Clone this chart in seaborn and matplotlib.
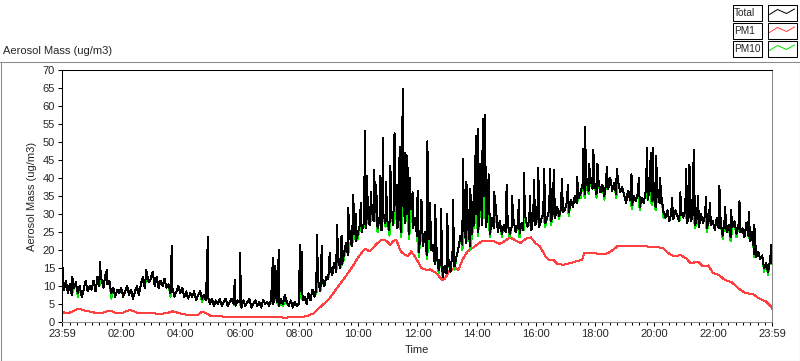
import numpy as np
import pandas as pd
import matplotlib
matplotlib.use('Agg')
import matplotlib.pyplot as plt
import seaborn as sns
from matplotlib.patches import Rectangle
from matplotlib.lines import Line2D
from matplotlib.ticker import FixedLocator

# Values. x is hours since the 23:59 start of the axis.
# Total and PM10 are sampled every 4 minutes (15 values per hour row).
STEP_MIN = 4

total_base = [
    13.5, 9.0, 11.5, 8.0, 10.5, 7.5, 9.5, 11.0, 8.0, 10.0, 7.0, 9.0, 11.5, 8.5, 10.0,      # 0h
    9.0, 11.5, 8.5, 12.5, 10.0, 12.0, 9.5, 13.0, 10.5, 11.5, 8.0, 9.5, 7.0, 9.0, 8.0,     # 1h
    9.5, 7.0, 8.5, 10.0, 7.5, 9.0, 6.5, 8.5, 10.0, 7.5, 10.5, 12.5, 9.5, 13.5, 11.0,      # 2h
    12.0, 14.0, 10.0, 12.5, 9.5, 11.5, 10.0, 12.0, 9.5, 10.5, 8.0, 9.5, 7.0, 8.5, 10.0,   # 3h
    8.0, 9.5, 7.0, 8.5, 6.5, 8.0, 7.0, 8.5, 6.0, 7.5, 8.5, 6.5, 7.5, 6.0, 7.0,            # 4h
    5.0, 6.5, 4.5, 6.0, 5.0, 6.5, 4.5, 5.5, 6.5, 4.5, 5.5, 6.5, 5.0, 4.5, 6.0,            # 5h
    5.5, 4.0, 6.0, 4.5, 5.5, 6.5, 4.0, 5.0, 6.0, 4.5, 5.5, 4.0, 6.0, 5.0, 5.5,            # 6h
    4.5, 6.0, 5.0, 7.0, 5.5, 4.5, 6.5, 5.0, 7.5, 5.5, 4.5, 6.0, 4.0, 5.5, 4.5,            # 7h
    5.0, 8.5, 6.0, 7.0, 5.0, 8.0, 6.0, 9.0, 7.0, 9.5, 11.0, 8.5, 12.0, 10.0, 12.5,        # 8h
    12.0, 15.5, 13.0, 16.5, 14.0, 17.0, 15.0, 16.0, 19.0, 22.0, 18.5, 23.5, 21.0, 24.5, 22.5,  # 9h
    24.5, 27.0, 25.0, 27.5, 26.0, 29.5, 27.0, 31.5, 28.0, 30.5, 26.0, 29.0, 25.5, 30.0, 27.5,  # 10h
    28.0, 25.5, 31.0, 27.0, 32.5, 26.0, 29.5, 25.0, 33.0, 27.5, 30.0, 24.5, 31.5, 26.0, 29.0,  # 11h
    24.0, 19.5, 27.0, 21.0, 25.0, 18.5, 23.0, 20.0, 21.5, 16.0, 19.0, 14.5, 17.5, 12.5, 15.5,  # 12h
    13.5, 17.0, 14.0, 19.5, 15.5, 18.0, 20.5, 24.0, 21.5, 25.5, 22.0, 26.0, 21.0, 24.5, 27.0,  # 13h
    30.0, 25.0, 33.5, 27.0, 35.0, 26.5, 31.0, 24.5, 29.0, 26.0, 31.5, 25.0, 28.0, 24.5, 27.0,  # 14h
    25.0, 27.5, 24.5, 26.5, 28.0, 25.0, 27.0, 24.5, 27.5, 25.5, 29.0, 26.5, 28.5, 25.5, 30.0,  # 15h
    27.0, 29.5, 26.5, 28.5, 30.0, 27.5, 29.0, 31.0, 28.0, 30.5, 29.0, 32.0, 29.5, 31.5, 30.5,  # 16h
    31.0, 33.5, 30.5, 34.0, 32.0, 35.0, 33.0, 34.5, 36.0, 38.5, 35.5, 39.0, 36.5, 40.0, 37.0,  # 17h
    38.5, 35.5, 39.5, 36.0, 38.0, 35.0, 39.0, 37.0, 40.0, 36.5, 38.5, 35.5, 39.0, 36.0, 37.5,  # 18h
    35.5, 33.0, 36.5, 34.0, 32.5, 35.0, 33.5, 36.0, 32.0, 34.5, 33.0, 36.5, 34.0, 37.0, 33.5,  # 19h
    35.0, 32.0, 36.0, 33.0, 34.5, 30.5, 29.0, 31.0, 28.0, 30.5, 28.5, 31.0, 29.5, 28.0, 30.5,  # 20h
    29.0, 31.0, 27.5, 30.0, 28.0, 30.5, 27.0, 29.0, 26.5, 30.0, 27.5, 29.5, 26.0, 28.5, 27.0,  # 21h
    28.0, 25.5, 29.0, 26.0, 27.5, 24.0, 28.5, 25.0, 27.0, 23.5, 26.5, 28.0, 24.5, 27.0, 25.0,  # 22h
    26.0, 23.5, 27.5, 24.0, 22.5, 25.0, 19.0, 18.0, 19.5, 17.5, 18.5, 15.0, 16.5, 14.0, 17.0,  # 23h
]

# PM10 runs under Total almost everywhere; it only peeks out at some dips
pm10_base = [
    10.5, 9.0, 11.5, 8.0, 10.5, 7.5, 9.5, 11.0, 7.0, 10.0, 7.0, 9.0, 11.5, 8.5, 10.0,
    9.0, 11.5, 8.5, 12.5, 10.0, 12.0, 9.5, 13.0, 10.5, 11.5, 6.5, 9.5, 7.0, 9.0, 8.0,
    9.5, 7.0, 8.5, 10.0, 7.5, 9.0, 6.5, 8.5, 10.0, 7.5, 10.5, 12.5, 9.5, 13.5, 11.0,
    12.0, 14.0, 10.0, 12.5, 9.5, 11.5, 10.0, 12.0, 9.5, 10.5, 7.0, 9.5, 7.0, 8.5, 10.0,
    8.0, 9.5, 7.0, 8.5, 6.5, 8.0, 7.0, 8.5, 6.0, 7.5, 8.5, 5.5, 7.5, 6.0, 7.0,
    5.0, 6.5, 4.5, 6.0, 5.0, 6.5, 4.5, 5.5, 6.5, 4.5, 5.5, 6.5, 5.0, 4.5, 6.0,
    5.5, 4.0, 6.0, 4.5, 5.5, 6.5, 4.0, 5.0, 6.0, 4.5, 5.5, 4.0, 6.0, 5.0, 5.5,
    4.5, 6.0, 5.0, 7.0, 5.5, 4.5, 5.0, 4.5, 6.0, 5.0, 4.5, 6.0, 4.0, 5.5, 4.5,
    5.0, 8.5, 6.0, 7.0, 5.0, 8.0, 6.0, 9.0, 7.0, 8.0, 11.0, 8.5, 12.0, 10.0, 12.5,
    12.0, 15.5, 13.0, 16.5, 14.0, 17.0, 15.0, 16.0, 17.5, 22.0, 18.5, 22.0, 21.0, 24.5, 22.5,
    23.0, 27.0, 25.0, 27.5, 26.0, 29.5, 27.0, 29.5, 28.0, 30.5, 25.0, 29.0, 25.5, 30.0, 26.5,
    28.0, 24.0, 31.0, 27.0, 32.5, 26.0, 29.5, 23.5, 33.0, 27.5, 30.0, 23.0, 31.5, 26.0, 29.0,
    24.0, 18.0, 27.0, 21.0, 25.0, 17.5, 23.0, 20.0, 21.5, 16.0, 19.0, 13.5, 17.5, 12.5, 15.5,
    13.5, 17.0, 14.0, 19.5, 14.5, 18.0, 20.5, 24.0, 20.0, 25.5, 22.0, 26.0, 20.0, 24.5, 27.0,
    30.0, 24.0, 33.5, 27.0, 35.0, 26.5, 31.0, 23.5, 29.0, 26.0, 31.5, 25.0, 28.0, 23.5, 27.0,
    25.0, 27.5, 23.5, 26.5, 28.0, 25.0, 27.0, 23.5, 27.5, 25.5, 29.0, 26.5, 28.5, 25.5, 30.0,
    27.0, 29.5, 26.5, 28.5, 30.0, 26.5, 29.0, 31.0, 27.0, 30.5, 29.0, 32.0, 28.5, 31.5, 30.5,
    31.0, 33.5, 29.5, 34.0, 32.0, 35.0, 33.0, 34.5, 34.5, 38.5, 34.5, 39.0, 35.5, 40.0, 37.0,
    38.5, 34.5, 39.5, 36.0, 38.0, 34.0, 39.0, 37.0, 40.0, 36.5, 38.5, 34.5, 39.0, 36.0, 37.5,
    35.5, 33.0, 36.5, 34.0, 31.5, 35.0, 33.5, 36.0, 31.0, 34.5, 33.0, 36.5, 34.0, 37.0, 32.5,
    35.0, 31.0, 36.0, 33.0, 34.5, 29.0, 29.0, 31.0, 28.0, 30.5, 28.5, 31.0, 29.5, 28.0, 30.5,
    29.0, 31.0, 27.5, 30.0, 28.0, 30.5, 26.0, 29.0, 26.5, 30.0, 27.5, 29.5, 25.0, 28.5, 27.0,
    28.0, 25.5, 29.0, 26.0, 27.5, 23.0, 28.5, 25.0, 27.0, 22.5, 26.5, 28.0, 23.5, 27.0, 25.0,
    26.0, 23.5, 27.5, 24.0, 22.5, 25.0, 18.0, 18.0, 19.5, 17.5, 18.5, 14.0, 16.5, 13.0, 17.0,
]

# short spikes that only show in Total (hour, ug/m3)
spike_hours = [
    0.02, 0.35, 1.27, 1.52, 2.85, 3.71, 4.93, 5.84, 6.01, 7.13, 7.21, 7.33, 8.05, 8.1,
    8.61, 8.78, 9.05, 9.3, 9.45, 9.67, 9.85, 9.93, 10.1, 10.25, 10.32, 10.45, 10.55,
    10.62, 10.74, 10.86, 10.95, 11.1, 11.24, 11.33, 11.41, 11.52, 11.61, 11.67, 11.75,
    11.85, 12.02, 12.15, 12.35, 12.45, 12.61, 12.81, 13.02, 13.21, 13.55, 13.67, 13.8,
    13.93, 13.99, 14.06, 14.14, 14.22, 14.3, 14.42, 14.61, 15.03, 15.21, 15.45, 15.6,
    15.81, 15.95, 16.1, 16.3, 16.5, 16.62, 16.9, 17.1, 17.41, 17.61, 17.67, 17.81, 17.96,
    18.1, 18.41, 18.75, 19.25, 19.5, 19.78, 19.9, 19.98, 20.08, 20.21, 20.61, 20.9, 21.1,
    21.21, 21.35, 21.5, 21.77, 21.9, 22.22, 22.41, 22.61, 22.9, 23.21, 23.4, 23.98,
]
spike_values = [
    15.0, 12.5, 16.8, 14.5, 14.4, 21.0, 23.5, 11.7, 19.2, 17.8, 15.6, 20.0, 21.4, 19.6,
    24.2, 21.0, 19.2, 27.0, 24.0, 31.8, 35.4, 30.0, 33.0, 53.0, 40.5, 36.0, 42.3,
    38.0, 40.5, 51.2, 39.0, 43.3, 52.4, 38.0, 48.7, 64.8, 47.0, 46.0, 40.0,
    36.0, 36.5, 34.0, 50.2, 33.0, 32.5, 31.5, 30.0, 34.0, 45.4, 39.0, 37.0,
    37.7, 51.6, 53.5, 44.0, 56.4, 57.6, 41.0, 36.0, 38.2, 35.0, 34.0, 41.5,
    35.0, 39.6, 42.8, 42.6, 42.6, 42.3, 39.8, 38.0, 40.2, 48.0, 54.2, 44.0, 47.9,
    44.0, 43.0, 42.5, 41.0, 40.0, 48.4, 47.0, 48.4, 46.0, 40.0, 34.5, 36.0, 42.5,
    43.7, 47.9, 35.0, 34.7, 33.0, 37.9, 32.0, 31.0, 33.5, 30.7, 27.0, 21.5,
]
end_hour = 24.0
total_end = 16.5
pm10_end = 16.0

# PM1 is smooth, read at irregular knots
pm1_hours = [
    0.0, 0.1, 0.2, 0.35, 0.5, 0.65, 0.8, 0.95, 1.1, 1.4, 1.55, 1.65, 1.8, 2.05, 2.2, 2.3,
    2.45, 2.6, 3.0, 3.4, 3.6, 3.75, 3.9, 4.1, 4.6, 4.72, 4.85, 5.0, 5.3, 5.6, 6.5, 7.3,
    7.6, 7.7, 8.1, 8.3, 8.5, 8.75, 9.0, 9.25, 9.5, 9.75, 10.0, 10.15, 10.25, 10.4, 10.5,
    10.65, 10.8, 10.95, 11.1, 11.2, 11.3, 11.45, 11.6, 11.7, 11.8, 11.95, 12.15, 12.3,
    12.45, 12.65, 12.85, 12.95, 13.1, 13.3, 13.4, 13.55, 13.7, 13.95, 14.2, 14.4, 14.6,
    14.8, 14.95, 15.15, 15.3, 15.5, 15.7, 15.85, 16.0, 16.15, 16.35, 16.45, 16.6, 16.75,
    16.95, 17.2, 17.45, 17.58, 17.65, 17.85, 18.0, 18.25, 18.45, 18.65, 18.8, 19.05,
    19.4, 19.75, 20.1, 20.3, 20.5, 20.7, 20.9, 21.1, 21.25, 21.5, 21.65, 21.85, 22.0,
    22.2, 22.4, 22.65, 22.85, 23.1, 23.35, 23.55, 23.8, 23.95, 24.0,
]
pm1_values = [
    2.9, 2.5, 2.4, 2.9, 3.5, 3.5, 3.1, 2.9, 2.6, 2.6, 3.0, 3.1, 2.6, 2.5, 3.1, 3.3,
    2.9, 2.4, 2.4, 2.3, 2.6, 3.0, 2.6, 2.1, 2.0, 2.8, 2.6, 1.8, 1.6, 1.4, 1.4, 1.3,
    1.2, 1.4, 1.4, 1.7, 2.4, 4.3, 6.1, 8.9, 11.7, 14.5, 17.8, 19.5, 20.3, 19.6, 20.5,
    21.8, 22.8, 22.6, 21.4, 22.5, 22.8, 19.6, 18.6, 18.3, 19.6, 17.9, 15.0, 14.5,
    14.6, 13.6, 11.7, 12.1, 14.3, 15.0, 14.5, 17.5, 19.5, 21.0, 22.5, 22.4, 22.4,
    21.7, 22.4, 23.5, 22.8, 22.0, 23.2, 23.5, 21.9, 21.0, 18.2, 17.3, 17.3, 16.1,
    15.9, 16.4, 17.0, 17.3, 19.1, 19.3, 19.1, 18.8, 19.1, 20.2, 21.2, 21.0,
    21.0, 21.0, 20.8, 20.6, 19.1, 18.2, 18.6, 17.7, 16.3, 16.8, 15.5, 15.7, 13.6,
    13.1, 11.7, 11.0, 9.4, 8.0, 7.8, 6.6, 5.7, 4.4, 3.7,
]

tick_labels = ['23:59', '02:00', '04:00', '06:00', '08:00', '10:00', '12:00',
               '14:00', '16:00', '18:00', '20:00', '22:00', '23:59']

series_names = ['Total', 'PM1', 'PM10']
series_colors = ['#000000', '#ff4040', '#00e600']

# ---- assemble frames ----
base_hours = np.arange(len(total_base)) * STEP_MIN / 60.0
total_df = pd.DataFrame({
    'hour': np.concatenate([base_hours, spike_hours, [end_hour]]),
    'mass': np.concatenate([total_base, spike_values, [total_end]]),
}).sort_values('hour', kind='stable')
pm10_df = pd.DataFrame({
    'hour': np.concatenate([base_hours, [end_hour]]),
    'mass': np.concatenate([pm10_base, [pm10_end]]),
})
pm1_df = pd.DataFrame({'hour': pm1_hours, 'mass': pm1_values})

# ---- figure ----
sns.set_theme(style='white')
plt.rcParams['font.family'] = ['Liberation Sans', 'DejaVu Sans']
plt.rcParams['font.size'] = 8

W, H = 800, 361
fig = plt.figure(figsize=(W / 100, H / 100), dpi=100)
fig.patch.set_facecolor('white')
ax = fig.add_axes([62 / W, 1 - 322 / H, 710 / W, 252 / H])

line_kw = dict(estimator=None, sort=False, lw=0.72, antialiased=False, legend=False)
sns.lineplot(data=pm1_df, x='hour', y='mass', ax=ax, color=series_colors[1], **line_kw)
sns.lineplot(data=pm10_df, x='hour', y='mass', ax=ax, color=series_colors[2], **line_kw)
sns.lineplot(data=total_df, x='hour', y='mass', ax=ax, color=series_colors[0], **line_kw)

ax.set_xlim(0, 24)
ax.set_ylim(0, 70)

major = [0.0] + [2 * k + 1 / 60 for k in range(1, 12)] + [24.0]
minor = [1 / 60 + 0.25 * k for k in range(1, 96) if k % 8 != 0]
ax.xaxis.set_major_locator(FixedLocator(major))
ax.xaxis.set_minor_locator(FixedLocator(minor))
ax.set_xticklabels(tick_labels)
ax.set_yticks(np.arange(0, 71, 5))

ax.tick_params(axis='both', which='major', direction='out', length=3, width=0.75,
               color='black', labelsize=8, pad=2, bottom=True, left=True)
ax.tick_params(axis='x', which='minor', direction='out', length=2, width=0.75,
               color='black', bottom=True)

for side, col in [('left', 'black'), ('top', 'black'), ('right', '#8a8a8a'), ('bottom', '#8a8a8a')]:
    ax.spines[side].set_visible(True)
    ax.spines[side].set_color(col)
    ax.spines[side].set_linewidth(0.75)

ax.set_xlabel('Time', fontsize=8)
ax.set_ylabel('Aerosol Mass (ug/m3)', fontsize=8)
ax.xaxis.set_label_coords(0.5, -0.092)
ax.yaxis.set_label_coords(-0.035, 0.5)


def fx(x):
    return (x + 0.5) / W


def fy(y):
    return 1 - (y + 0.5) / H


# outer panel frame
fig.add_artist(Line2D([0, 1], [fy(61)] * 2, color='#8a8a8a', lw=0.75, transform=fig.transFigure))
fig.add_artist(Line2D([fx(0)] * 2, [fy(61), fy(360)], color='#8a8a8a', lw=0.75, transform=fig.transFigure))
fig.add_artist(Line2D([0, 1], [fy(360)] * 2, color='black', lw=0.75, transform=fig.transFigure))
fig.add_artist(Line2D([fx(799)] * 2, [fy(61), fy(360)], color='black', lw=0.75, transform=fig.transFigure))

fig.text(3 / W, fy(51), 'Aerosol Mass (ug/m3)', fontsize=8, va='center', ha='left')

# legend boxes, top right
for i, (name, col) in enumerate(zip(series_names, series_colors)):
    top = 5 + 18 * i
    bot = top + 15
    fig.add_artist(Rectangle((fx(732), fy(bot)), (761 - 732) / W, 15 / H, fill=False,
                             ec='black', lw=0.75, transform=fig.transFigure))
    fig.text(fx(733.5), fy((top + bot) / 2), name, fontsize=7.3, va='center', ha='left')
    fig.add_artist(Rectangle((fx(767), fy(bot)), (796 - 767) / W, 15 / H, fill=False,
                             ec='black', lw=0.75, transform=fig.transFigure))
    sx = [769, 777, 786, 794]
    sy = [top + 9, top + 4, top + 8, top + 3.5]
    fig.add_artist(Line2D([fx(v) for v in sx], [fy(v) for v in sy], color=col, lw=0.72,
                          transform=fig.transFigure))

fig.savefig('out.png', dpi=100, facecolor='white')
